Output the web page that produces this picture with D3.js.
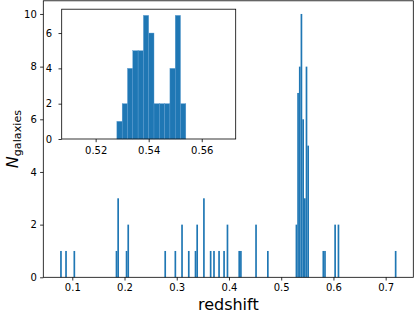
<!DOCTYPE html>
<html>
<head>
<meta charset="utf-8">
<script src="https://cdn.jsdelivr.net/npm/d3@7"></script>
<style>
  html, body { margin: 0; padding: 0; background: #fff; }
  svg { display: block; font-family: "DejaVu Sans", sans-serif; }
</style>
</head>
<body>
<svg id="chart" width="415" height="313"></svg>
<script>
// main histogram: left edge of each non-empty bin and its count
const mainZ = [0.0767, 0.0864, 0.1023, 0.1830, 0.1862, 0.2023, 0.2055, 0.2763, 0.2957, 0.3085,
  0.3214, 0.3343, 0.3375, 0.3504, 0.3633, 0.3697, 0.3794, 0.3890, 0.3955, 0.4180,
  0.4212, 0.4502, 0.4728, 0.5275, 0.5307, 0.5339, 0.5371, 0.5404, 0.5436, 0.5468,
  0.5500, 0.5790, 0.5822, 0.6016, 0.6080, 0.7175];
const mainN = [1, 1, 1, 1, 3, 1, 2, 1, 1, 2,
  1, 1, 2, 3, 1, 1, 1, 1, 2, 1,
  1, 2, 1, 2, 7, 8, 10, 6, 3, 8,
  5, 1, 1, 2, 2, 1];
const mainBinWidth = 0.00322;

// inset: zoom on the cluster peak
const insetZ = [0.528, 0.530, 0.532, 0.534, 0.536, 0.538, 0.540, 0.542, 0.544, 0.546, 0.548, 0.550, 0.552];
const insetN = [1, 2, 4, 5, 5, 7, 6, 2, 2, 2, 4, 7, 2];
const insetBinWidth = 0.002;

const mainXTicks = [0.1, 0.2, 0.3, 0.4, 0.5, 0.6, 0.7];
const mainYTicks = [0, 2, 4, 6, 8, 10];
const insetXTicks = [0.52, 0.54, 0.56];
const insetYTicks = [0, 2, 4, 6];

const blue = "#1f77b4";
const svg = d3.select("#chart");

function drawHist(g, xs, ys, z, n, w, seam) {
  g.selectAll("rect.bar")
    .data(z.map((d, i) => ({ z: d, n: n[i] })))
    .enter().append("rect")
    .attr("class", "bar")
    .attr("x", d => xs(d.z))
    .attr("width", d => xs(d.z + w) - xs(d.z))
    .attr("y", d => ys(d.n))
    .attr("height", d => ys(0) - ys(d.n))
    .attr("fill", blue)
    .attr("stroke", seam ? "#5b9bd0" : "none")
    .attr("stroke-width", seam ? 0.4 : 0);
}

function styleAxis(g) {
  g.select(".domain").remove();
  g.selectAll("line").attr("stroke", "#000").attr("stroke-width", 0.8);
  g.selectAll("text").attr("font-size", 10).attr("fill", "#000")
    .attr("font-family", "DejaVu Sans, sans-serif");
}

// ---- main axes
const m = { left: 43.3, right: 413.3, top: 0.8, bottom: 277.3 };
const x = d3.scaleLinear().domain([0.0445, 0.7529]).range([m.left, m.right]);
const y = d3.scaleLinear().domain([0, 10.5]).range([m.bottom, m.top]);

const main = svg.append("g");
drawHist(main, x, y, mainZ, mainN, mainBinWidth, false);

main.append("g").attr("transform", `translate(0,${m.bottom})`)
  .call(d3.axisBottom(x).tickValues(mainXTicks).tickFormat(d3.format(".1f")).tickSize(3.2).tickPadding(3.5))
  .call(styleAxis);
main.append("g").attr("transform", `translate(${m.left},0)`)
  .call(d3.axisLeft(y).tickValues(mainYTicks).tickFormat(d3.format("d")).tickSize(3.2).tickPadding(3.3))
  .call(styleAxis);

main.append("rect")
  .attr("x", m.left).attr("y", m.top)
  .attr("width", m.right - m.left).attr("height", m.bottom - m.top)
  .attr("fill", "none").attr("stroke", "#000").attr("stroke-width", 0.8);

main.append("text")
  .attr("x", (m.left + m.right) / 2).attr("y", 310)
  .attr("text-anchor", "middle").attr("font-size", 16)
  .text("redshift");

const ylab = main.append("text")
  .attr("transform", `translate(18,${(m.top + m.bottom) / 2}) rotate(-90)`)
  .attr("text-anchor", "middle");
ylab.append("tspan").attr("font-size", 16).attr("font-style", "italic").text("N");
ylab.append("tspan").attr("font-size", 11.2).attr("dy", 2.5).text("galaxies");

// ---- inset axes
const ins = { left: 61.7, right: 235.7, top: 9.2, bottom: 139 };
const xi = d3.scaleLinear().domain([0.5072, 0.5728]).range([ins.left, ins.right]);
const yi = d3.scaleLinear().domain([0, 7.35]).range([ins.bottom, ins.top]);

const inset = svg.append("g");
inset.append("rect")
  .attr("x", ins.left).attr("y", ins.top)
  .attr("width", ins.right - ins.left).attr("height", ins.bottom - ins.top)
  .attr("fill", "#fff");
drawHist(inset, xi, yi, insetZ, insetN, insetBinWidth, true);

inset.append("g").attr("transform", `translate(0,${ins.bottom})`)
  .call(d3.axisBottom(xi).tickValues(insetXTicks).tickFormat(d3.format(".2f")).tickSize(3.2).tickPadding(4.5))
  .call(styleAxis);
inset.append("g").attr("transform", `translate(${ins.left},0)`)
  .call(d3.axisLeft(yi).tickValues(insetYTicks).tickFormat(d3.format("d")).tickSize(3.2).tickPadding(6.5))
  .call(styleAxis);

inset.append("rect")
  .attr("x", ins.left).attr("y", ins.top)
  .attr("width", ins.right - ins.left).attr("height", ins.bottom - ins.top)
  .attr("fill", "none").attr("stroke", "#000").attr("stroke-width", 0.8);
</script>
</body>
</html>
